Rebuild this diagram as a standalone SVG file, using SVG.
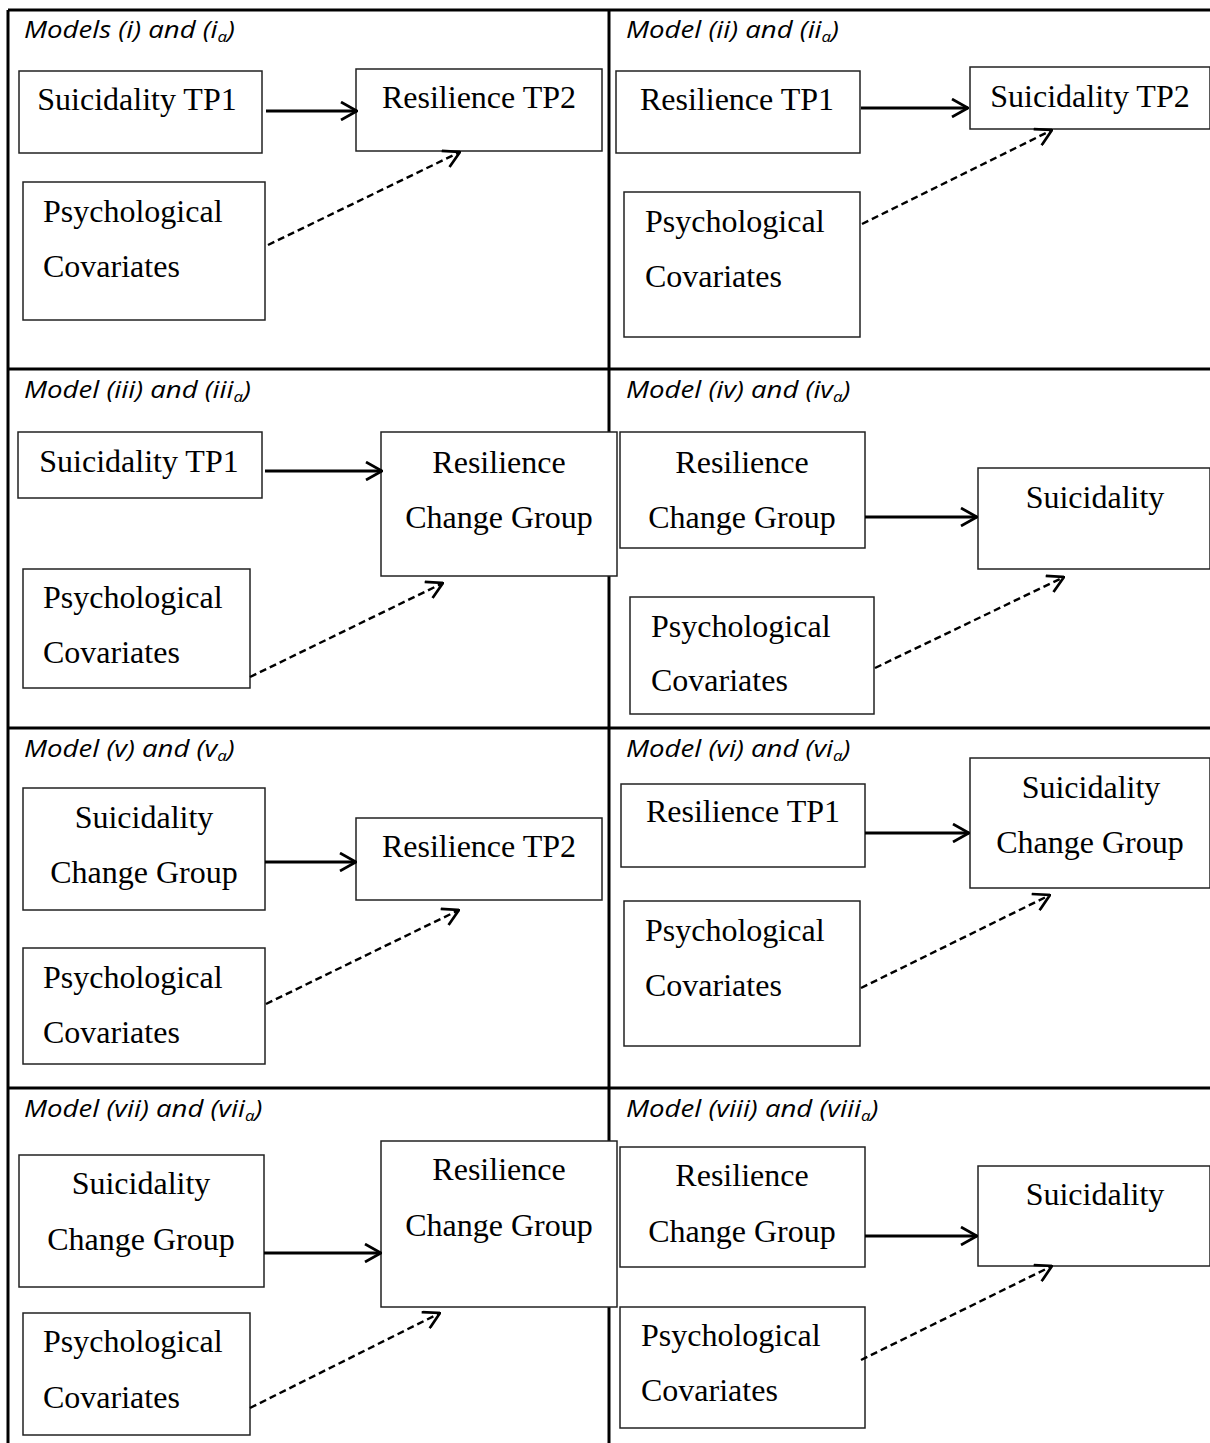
<svg xmlns="http://www.w3.org/2000/svg" width="1210" height="1443" viewBox="0 0 1210 1443">
<style>
.grid{stroke:#000;stroke-width:3;fill:none}
.box{fill:#fff;stroke:#222;stroke-width:1.5}
.t{font-family:"Liberation Serif","Times New Roman",serif;font-size:32px;fill:#000}
.c{text-anchor:middle}
.h{font-family:"Open Sans","Liberation Sans",sans-serif;font-style:italic;font-size:23px;fill:#000}
.sub{font-size:14px}
.solid{stroke:#000;stroke-width:2.8;fill:none;marker-end:url(#chev)}
.dash{stroke:#000;stroke-width:2.4;fill:none;stroke-dasharray:7 4;marker-end:url(#chev)}
</style>
<defs>
<marker id="chev" viewBox="0 0 20 20" refX="19" refY="10" markerWidth="20" markerHeight="20" markerUnits="userSpaceOnUse" orient="auto">
<path d="M3,1 L19,10 L3,19" fill="none" stroke="#000" stroke-width="2.7"/>
</marker>
</defs>
<rect width="1210" height="1443" fill="#fff"/>
<g id="grid">
<line class="grid" x1="8" y1="10" x2="1210" y2="10"/>
<line class="grid" x1="8" y1="10" x2="8" y2="1443"/>
<line class="grid" x1="609" y1="10" x2="609" y2="1443"/>
<line class="grid" x1="8" y1="369" x2="1210" y2="369"/>
<line class="grid" x1="8" y1="728" x2="1210" y2="728"/>
<line class="grid" x1="8" y1="1088" x2="1210" y2="1088"/>
</g>
<g id="headers">
<text class="h" transform="translate(24,38) scale(1.2,1)">Models (i) and (i<tspan class="sub" dy="4">a</tspan><tspan dy="-4">)</tspan></text>
<text class="h" transform="translate(626,38) scale(1.2,1)">Model (ii) and (ii<tspan class="sub" dy="4">a</tspan><tspan dy="-4">)</tspan></text>
<text class="h" transform="translate(24,398) scale(1.2,1)">Model (iii) and (iii<tspan class="sub" dy="4">a</tspan><tspan dy="-4">)</tspan></text>
<text class="h" transform="translate(626,398) scale(1.2,1)">Model (iv) and (iv<tspan class="sub" dy="4">a</tspan><tspan dy="-4">)</tspan></text>
<text class="h" transform="translate(24,757) scale(1.2,1)">Model (v) and (v<tspan class="sub" dy="4">a</tspan><tspan dy="-4">)</tspan></text>
<text class="h" transform="translate(626,757) scale(1.2,1)">Model (vi) and (vi<tspan class="sub" dy="4">a</tspan><tspan dy="-4">)</tspan></text>
<text class="h" transform="translate(24,1117) scale(1.2,1)">Model (vii) and (vii<tspan class="sub" dy="4">a</tspan><tspan dy="-4">)</tspan></text>
<text class="h" transform="translate(626,1117) scale(1.2,1)">Model (viii) and (viii<tspan class="sub" dy="4">a</tspan><tspan dy="-4">)</tspan></text>
</g>
<!-- Panel 1 -->
<g id="p1-suic-tp1"><rect class="box" x="19" y="71" width="243" height="82"/><text class="t c" x="137" y="110">Suicidality TP1</text></g>
<g id="p1-res-tp2"><rect class="box" x="356" y="69" width="246" height="82"/><text class="t c" x="479" y="108">Resilience TP2</text></g>
<g id="p1-psych"><rect class="box" x="23" y="182" width="242" height="138"/><text class="t" x="43" y="222">Psychological</text><text class="t" x="43" y="277">Covariates</text></g>
<!-- Panel 2 -->
<g id="p2-res-tp1"><rect class="box" x="616" y="71" width="244" height="82"/><text class="t c" x="737" y="110">Resilience TP1</text></g>
<g id="p2-suic-tp2"><rect class="box" x="970" y="67" width="240" height="62"/><text class="t c" x="1090" y="107">Suicidality TP2</text></g>
<g id="p2-psych"><rect class="box" x="624" y="192" width="236" height="145"/><text class="t" x="645" y="232">Psychological</text><text class="t" x="645" y="287">Covariates</text></g>
<!-- Panel 3 -->
<g id="p3-suic-tp1"><rect class="box" x="18" y="432" width="244" height="66"/><text class="t c" x="139" y="472">Suicidality TP1</text></g>
<g id="p3-res-cg"><rect class="box" x="381" y="432" width="236" height="144"/><text class="t c" x="499" y="473">Resilience</text><text class="t c" x="499" y="528">Change Group</text></g>
<g id="p3-psych"><rect class="box" x="23" y="569" width="227" height="119"/><text class="t" x="43" y="608">Psychological</text><text class="t" x="43" y="663">Covariates</text></g>
<!-- Panel 4 -->
<g id="p4-res-cg"><rect class="box" x="620" y="432" width="245" height="116"/><text class="t c" x="742" y="473">Resilience</text><text class="t c" x="742" y="528">Change Group</text></g>
<g id="p4-suic"><rect class="box" x="978" y="468" width="232" height="101"/><text class="t c" x="1095" y="508">Suicidality</text></g>
<g id="p4-psych"><rect class="box" x="630" y="597" width="244" height="117"/><text class="t" x="651" y="637">Psychological</text><text class="t" x="651" y="691">Covariates</text></g>
<!-- Panel 5 -->
<g id="p5-suic-cg"><rect class="box" x="23" y="788" width="242" height="122"/><text class="t c" x="144" y="828">Suicidality</text><text class="t c" x="144" y="883">Change Group</text></g>
<g id="p5-res-tp2"><rect class="box" x="356" y="818" width="246" height="82"/><text class="t c" x="479" y="857">Resilience TP2</text></g>
<g id="p5-psych"><rect class="box" x="23" y="948" width="242" height="116"/><text class="t" x="43" y="988">Psychological</text><text class="t" x="43" y="1043">Covariates</text></g>
<!-- Panel 6 -->
<g id="p6-res-tp1"><rect class="box" x="621" y="784" width="244" height="83"/><text class="t c" x="743" y="822">Resilience TP1</text></g>
<g id="p6-suic-cg"><rect class="box" x="970" y="758" width="240" height="130"/><text class="t c" x="1091" y="798">Suicidality</text><text class="t c" x="1090" y="853">Change Group</text></g>
<g id="p6-psych"><rect class="box" x="624" y="901" width="236" height="145"/><text class="t" x="645" y="941">Psychological</text><text class="t" x="645" y="996">Covariates</text></g>
<!-- Panel 7 -->
<g id="p7-suic-cg"><rect class="box" x="19" y="1155" width="245" height="132"/><text class="t c" x="141" y="1194">Suicidality</text><text class="t c" x="141" y="1250">Change Group</text></g>
<g id="p7-res-cg"><rect class="box" x="381" y="1141" width="236" height="166"/><text class="t c" x="499" y="1180">Resilience</text><text class="t c" x="499" y="1236">Change Group</text></g>
<g id="p7-psych"><rect class="box" x="23" y="1313" width="227" height="122"/><text class="t" x="43" y="1352">Psychological</text><text class="t" x="43" y="1408">Covariates</text></g>
<!-- Panel 8 -->
<g id="p8-res-cg"><rect class="box" x="620" y="1147" width="245" height="120"/><text class="t c" x="742" y="1186">Resilience</text><text class="t c" x="742" y="1242">Change Group</text></g>
<g id="p8-suic"><rect class="box" x="978" y="1166" width="232" height="100"/><text class="t c" x="1095" y="1205">Suicidality</text></g>
<g id="p8-psych"><rect class="box" x="620" y="1307" width="245" height="121"/><text class="t" x="641" y="1346">Psychological</text><text class="t" x="641" y="1401">Covariates</text></g>
<g id="connectors">
<line class="solid" x1="266" y1="111" x2="357" y2="111"/>
<line class="dash" x1="268" y1="245" x2="460" y2="152"/>
<line class="solid" x1="861" y1="108" x2="968" y2="108"/>
<line class="dash" x1="862" y1="224" x2="1052" y2="130"/>
<line class="solid" x1="265" y1="471" x2="382" y2="471"/>
<line class="dash" x1="250" y1="677" x2="443" y2="583"/>
<line class="solid" x1="865" y1="517" x2="977" y2="517"/>
<line class="dash" x1="875" y1="668" x2="1064" y2="577"/>
<line class="solid" x1="265" y1="862" x2="356" y2="862"/>
<line class="dash" x1="266" y1="1004" x2="459" y2="910"/>
<line class="solid" x1="865" y1="833" x2="969" y2="833"/>
<line class="dash" x1="861" y1="988" x2="1050" y2="895"/>
<line class="solid" x1="264" y1="1253" x2="381" y2="1253"/>
<line class="dash" x1="250" y1="1408" x2="440" y2="1313"/>
<line class="solid" x1="865" y1="1236" x2="977" y2="1236"/>
<line class="dash" x1="861" y1="1360" x2="1052" y2="1266"/>
</g>
</svg>
